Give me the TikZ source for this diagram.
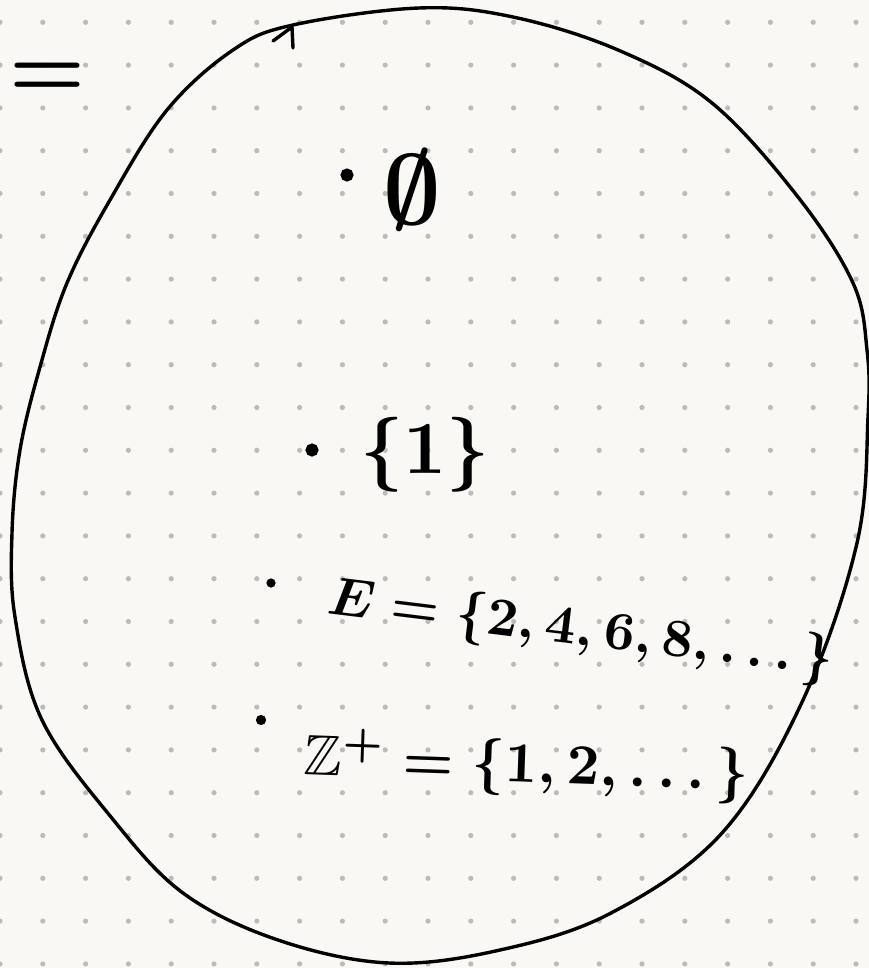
\documentclass[tikz,border=0pt]{standalone}
\usepackage{amsmath,amssymb}
\usetikzlibrary{positioning}

\definecolor{paper}{HTML}{FAF8F4}
\definecolor{griddot}{HTML}{BDBBB7}

\tikzset{
  pen/.style={line width=3.4pt,line cap=round,line join=round},
  setlabel/.style={inner sep=0pt,text=black,font=\boldmath},
  marker/.style={circle,draw,fill=black,line width=3pt,inner sep=0pt,minimum size=#1},
  marker/.default=8pt
}

\begin{document}
\begin{tikzpicture}[x=1pt,y=-1pt]

%---------------------------------
% HOJA PUNTEADA
%---------------------------------
\fill[paper] (0,0) rectangle (869,968);
\useasboundingbox (0,0) rectangle (869,968);
\foreach \i in {0,...,20}
  \foreach \j in {0,...,22}
    \fill[griddot] (42.8*\i,22.3+42.8*\j) circle (2.6pt);

%---------------------------------
% SIGNO SUELTO ARRIBA
%---------------------------------
\node[setlabel,scale=8.5] (eqsign) at (48,80) {$=$};

%---------------------------------
% LA CURVA CERRADA
%---------------------------------
\draw[pen] plot[smooth cycle,tension=0.6] coordinates {
  (293,25) (419,8) (513,17) (618,50) (712,103) (798,197) (853,283)
  (867,350) (868,417) (857,543) (803,700) (722,833) (611,913)
  (500,950) (389,963) (278,940) (183,893) (111,817) (42,720)
  (15,617) (12,533) (20,450) (40,367) (67,283) (110,200) (167,110)
  (233,50)};

% trazo de cierre
\coordinate (hookA) at (273,41);
\coordinate (hookB) at (292,27);
\coordinate (hookC) at (293,48);
\draw[pen] (hookA) -- (hookB) -- (hookC);

%---------------------------------
% ELEMENTOS
%---------------------------------
\node[marker=10pt] (m1) at (347,175) {};
\node[setlabel,scale=10] (empty) at (412,190) {$\emptyset$};

\node[marker=10pt] (m2) at (312,450) {};
\node[setlabel,scale=7.5] (one) at (425,455) {$\{1\}$};

\node[marker=6pt] (m3) at (271,583) {};
\node[setlabel,anchor=west,rotate=-7,scale=5.4] (evens) at (327,600)
  {$E=\{2,4,6,8,\dots\}$};

\node[marker=7pt] (m4) at (261,720) {};
\node[setlabel,anchor=west,rotate=-2,scale=5.7] (posint) at (303,758)
  {$\mathbb{Z}^{+}=\{1,2,\dots\}$};

\end{tikzpicture}
\end{document}
